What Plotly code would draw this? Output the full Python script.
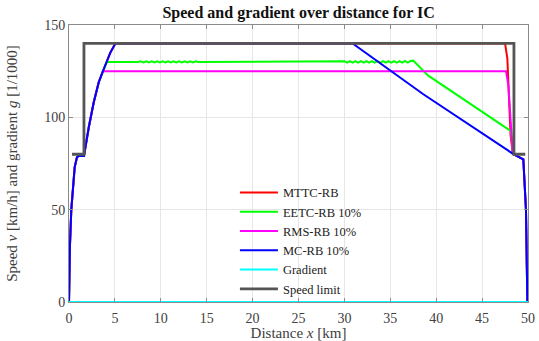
import plotly.graph_objects as go

# ---- speed profiles [km] / [km/h] ----
# common start: launch, hold under the 80 km/h limit, then accelerate
start_x = [0.0, 0.02, 0.10, 0.25, 0.44, 0.62, 0.87, 1.05, 1.63]
start_v = [0.0, 10.0, 30.0, 50.0, 64.0, 73.0, 78.5, 79.0, 79.0]

accel_x = [1.80, 2.15, 2.69, 3.24, 3.70, 4.14, 4.50, 5.05]
accel_v = [85.0, 94.5, 108.0, 119.0, 125.0, 130.0, 135.0, 140.0]

# common stop: under the 80 km/h limit, then braking to standstill
stop_x = [48.45, 49.49, 49.78, 49.93]
stop_v = [80.0, 77.3, 49.8, 0.0]

# MTTC-RB: cruise at the limit, brake late
mttc_x = [47.50, 47.75, 48.10, 48.33]
mttc_v = [140.0, 132.0, 90.4, 81.0]

# EETC-RB 10%: cruise near 130 with small control oscillation, then coast
eetc_cruise_x = [4.14, 7.5, 7.8, 8.1, 8.4, 8.7, 9.0, 9.3, 9.6, 9.9, 10.2, 10.5,
                 10.8, 11.1, 11.4, 11.7, 12.0, 12.3, 12.6, 12.9, 13.2, 13.5,
                 13.8, 14.1, 29.7, 30.0, 30.3, 30.6, 30.9, 31.2, 31.5, 31.8,
                 32.1, 32.4, 32.7, 33.0, 33.3, 33.6, 33.9, 34.2, 34.5, 34.8,
                 35.1, 35.4, 35.7, 36.0, 36.3, 36.6, 36.9, 37.2, 37.5]
eetc_cruise_v = [130.0, 130.0, 130.3, 129.7, 130.3, 129.7, 130.3, 129.7, 130.3,
                 129.7, 130.3, 129.7, 130.3, 129.7, 130.3, 129.7, 130.3, 129.7,
                 130.3, 129.7, 130.3, 129.7, 130.3, 130.0, 130.0, 130.4, 129.6,
                 130.4, 129.6, 130.4, 129.6, 130.4, 129.6, 130.4, 129.6, 130.4,
                 129.6, 130.4, 129.6, 130.4, 129.6, 130.4, 129.6, 130.4, 129.6,
                 130.4, 129.6, 130.5, 129.6, 130.5, 130.7]
eetc_coast_x = [38.2, 39.1, 48.15, 48.35]
eetc_coast_v = [127.2, 122.7, 92.5, 81.0]

# RMS-RB 10%: cruise at 125
rms_x = [3.70, 47.60, 47.86, 48.33]
rms_v = [125.0, 125.0, 117.5, 81.0]

# MC-RB 10%: cruise at the limit, long coasting phase
mc_x = [30.9, 38.6]
mc_v = [140.0, 112.5]

# gradient along the line [1/1000]
grad_x = [0.0, 50.0]
grad_g = [0.0, 0.0]

# speed limit [km/h]
limit_x = [0.33, 1.63, 1.63, 48.47, 48.47, 49.7]
limit_v = [80.0, 80.0, 140.0, 140.0, 80.0, 80.0]


def upto(xs, vs, vmax):
    return [x for x, v in zip(xs, vs) if v <= vmax], [v for v in vs if v <= vmax]


ax_r, av_r = upto(accel_x, accel_v, 140)
ax_g, av_g = upto(accel_x, accel_v, 129.9)
ax_m, av_m = upto(accel_x, accel_v, 124.9)

red_x = start_x + ax_r + mttc_x + stop_x
red_v = start_v + av_r + mttc_v + stop_v
green_x = start_x + ax_g + eetc_cruise_x + eetc_coast_x + stop_x
green_v = start_v + av_g + eetc_cruise_v + eetc_coast_v + stop_v
mag_x = start_x + ax_m + rms_x + stop_x
mag_v = start_v + av_m + rms_v + stop_v
blue_x = start_x + ax_r + mc_x + stop_x
blue_v = start_v + av_r + mc_v + stop_v

SERIF = "Liberation Serif, Times New Roman, serif"

fig = go.Figure()
fig.add_trace(go.Scatter(x=red_x, y=red_v, mode="lines", name="MTTC-RB",
                         line=dict(color="#ff0000", width=2)))
fig.add_trace(go.Scatter(x=green_x, y=green_v, mode="lines", name="EETC-RB 10%",
                         line=dict(color="#00ff00", width=2)))
fig.add_trace(go.Scatter(x=mag_x, y=mag_v, mode="lines", name="RMS-RB 10%",
                         line=dict(color="#ff00ff", width=2)))
fig.add_trace(go.Scatter(x=blue_x, y=blue_v, mode="lines", name="MC-RB 10%",
                         line=dict(color="#0000ff", width=2)))
fig.add_trace(go.Scatter(x=grad_x, y=grad_g, mode="lines", name="Gradient",
                         line=dict(color="#00ffff", width=2)))
fig.add_trace(go.Scatter(x=limit_x, y=limit_v, mode="lines", name="Speed limit",
                         line=dict(color="#555555", width=2.8)))

axis_common = dict(
    showline=True, linecolor="#8a8a8a", linewidth=1, mirror="ticks",
    ticks="inside", ticklen=4, tickcolor="#8a8a8a",
    showgrid=True, gridcolor="#e6e6e6", gridwidth=1, zeroline=False,
    automargin=False,
    tickfont=dict(family=SERIF, size=14, color="#404040"),
)

fig.update_layout(
    width=539, height=341,
    margin=dict(l=69, r=11, t=25, b=39),
    paper_bgcolor="white", plot_bgcolor="white",
    title=dict(text="<b>Speed and gradient over distance for IC</b>",
               font=dict(family=SERIF, size=16, color="#111111"),
               x=0.554, xanchor="center", y=0.965, yanchor="middle"),
    xaxis=dict(range=[0, 50], tickvals=[0, 5, 10, 15, 20, 25, 30, 35, 40, 45, 50],
               ticklabelstandoff=3,
               title=dict(text="Distance <i>x</i> [km]", standoff=0,
                          font=dict(family=SERIF, size=15, color="#404040")),
               **axis_common),
    yaxis=dict(range=[0, 150], tickvals=[0, 50, 100, 150],
               title=dict(text="Speed <i>v</i> [km/h] and gradient <i>g</i> [1/1000]",
                          standoff=22,
                          font=dict(family=SERIF, size=15, color="#404040")),
               **axis_common),
    legend=dict(x=0.3615, y=0.448, xanchor="left", yanchor="top",
                bgcolor="rgba(255,255,255,0)", borderwidth=0,
                font=dict(family=SERIF, size=12.5, color="#222222"),
                itemwidth=38, tracegroupgap=0),
    showlegend=True,
)

fig.write_html("out.html")
